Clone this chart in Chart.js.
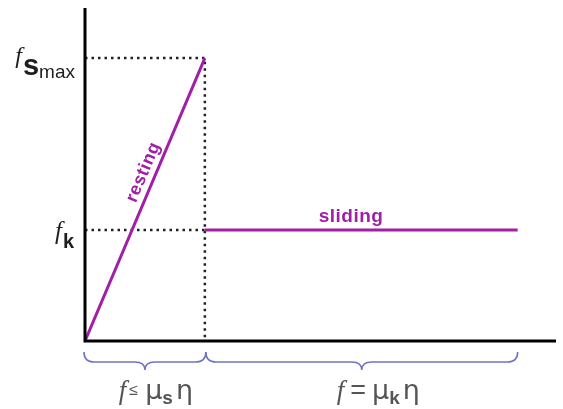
<!DOCTYPE html>
<html>
<head>
<meta charset="utf-8">
<script src="https://cdn.jsdelivr.net/npm/chart.js@4/dist/chart.umd.min.js"></script>
<style>
  html, body { margin: 0; padding: 0; background: #fff; }
  #wrap { width: 563px; height: 409px; }
</style>
</head>
<body>
<div id="wrap"><canvas id="c" width="563" height="409"></canvas></div>
<script>
// Friction force (y) against applied force (x), arbitrary units
const restingForce = [0, 1];
const restingFriction = [0, 10];
const slidingForce = [1, 3.61];
const slidingFriction = [3.92, 3.92];
const fsMax = 10;          // maximum static friction
const fk = 3.92;           // kinetic friction
const breakForce = 1;      // applied force where the block starts to slide
const xRange = [0, 3.93];
const yRange = [0, 11.77];

const PURPLE = '#a11fa6';
const BRACE = '#6f74c2';
const GREY = '#555';

const pts = (xs, ys) => xs.map((x, i) => ({ x, y: ys[i] }));

// draw a sequence of differently styled text pieces on one baseline
function drawRuns(ctx, x, y, runs, align) {
  let total = 0;
  runs.forEach(r => { ctx.font = r.font; r.w = ctx.measureText(r.text).width + (r.gap || 0); total += r.w; });
  let cx = align === 'center' ? x - total / 2 : (align === 'right' ? x - total : x);
  runs.forEach(r => {
    ctx.font = r.font;
    ctx.fillStyle = r.color;
    ctx.textAlign = 'left';
    ctx.textBaseline = 'alphabetic';
    ctx.fillText(r.text, cx + (r.dx || 0), y + (r.dy || 0));
    cx += r.w;
  });
}

function brace(ctx, x1, x2, y0) {
  const yh = y0 + 10, yt = y0 + 18, r = 10, xm = (x1 + x2) / 2;
  ctx.beginPath();
  ctx.moveTo(x1, y0);
  ctx.quadraticCurveTo(x1, yh, x1 + r, yh);
  ctx.lineTo(xm - r, yh);
  ctx.quadraticCurveTo(xm, yh, xm, yt);
  ctx.quadraticCurveTo(xm, yh, xm + r, yh);
  ctx.lineTo(x2 - r, yh);
  ctx.quadraticCurveTo(x2, yh, x2, y0);
  ctx.stroke();
}

const annotations = {
  id: 'annotations',
  afterDatasetsDraw(chart) {
    const { ctx, chartArea: a, scales: { x, y } } = chart;
    ctx.save();

    // axes
    ctx.strokeStyle = '#000';
    ctx.lineWidth = 3;
    ctx.lineCap = 'butt';
    ctx.beginPath();
    ctx.moveTo(a.left, a.top);
    ctx.lineTo(a.left, a.bottom);
    ctx.lineTo(a.right, a.bottom);
    ctx.stroke();

    // y-axis labels
    const ink = '#1e1e1e';
    const yMax = y.getPixelForValue(fsMax);
    drawRuns(ctx, 75, yMax + 17, [
      { text: 'f', font: 'italic 24px "Liberation Serif"', color: ink, dy: -12, gap: 1 },
      { text: 's', font: 'bold 29px "Liberation Sans"', color: ink },
      { text: 'max', font: '19px "Liberation Sans"', color: ink, dy: 3 }
    ], 'right');
    const yK = y.getPixelForValue(fk);
    drawRuns(ctx, 74, yK + 11, [
      { text: 'f', font: 'italic 25px "Liberation Serif"', color: ink, dy: -2, gap: 1 },
      { text: 'k', font: 'bold 20px "Liberation Sans"', color: ink, dy: 7 }
    ], 'right');

    // line labels
    const p0x = x.getPixelForValue(restingForce[0]), p0y = y.getPixelForValue(restingFriction[0]);
    const p1x = x.getPixelForValue(restingForce[1]), p1y = y.getPixelForValue(restingFriction[1]);
    const ang = Math.atan2(p1y - p0y, p1x - p0x);
    const mx = p0x + (p1x - p0x) * 0.58, my = p0y + (p1y - p0y) * 0.58;
    ctx.save();
    ctx.translate(mx, my);
    ctx.rotate(ang);
    ctx.font = 'bold 18px "Liberation Sans"';
    ctx.letterSpacing = '0.5px';
    ctx.fillStyle = PURPLE;
    ctx.textAlign = 'center';
    ctx.textBaseline = 'alphabetic';
    ctx.fillText('resting', 0, -7);
    ctx.restore();

    ctx.save();
    ctx.font = 'bold 19px "Liberation Sans"';
    ctx.letterSpacing = '0.5px';
    ctx.fillStyle = PURPLE;
    ctx.textAlign = 'center';
    ctx.textBaseline = 'alphabetic';
    ctx.fillText('sliding', x.getPixelForValue(2.22), y.getPixelForValue(fk) - 8);
    ctx.restore();

    // braces under the axis
    const bx0 = x.getPixelForValue(0), bx1 = x.getPixelForValue(breakForce), bx2 = x.getPixelForValue(slidingForce[1]);
    ctx.strokeStyle = BRACE;
    ctx.lineWidth = 1.6;
    brace(ctx, bx0 - 1, bx1 + 1, a.bottom + 11);
    brace(ctx, bx1 + 1, bx2, a.bottom + 11);

    const base = a.bottom + 58;
    drawRuns(ctx, (bx0 + bx1) / 2 + 11, base, [
      { text: 'f', font: 'italic 27px "Liberation Serif"', color: GREY, gap: 3 },
      { text: '≤', font: '16px "Liberation Sans"', color: GREY, dy: -4, gap: 7 },
      { text: 'μ', font: '27px "DejaVu Sans"', color: GREY },
      { text: 's', font: 'bold 19px "Liberation Sans"', color: GREY, dy: 5, gap: 3 },
      { text: 'η', font: '27px "DejaVu Sans"', color: GREY }
    ], 'center');
    drawRuns(ctx, (bx1 + bx2) / 2 + 17, base, [
      { text: 'f', font: 'italic 27px "Liberation Serif"', color: GREY, gap: 6 },
      { text: '=', font: '27px "Liberation Sans"', color: GREY, gap: 6 },
      { text: 'μ', font: '27px "DejaVu Sans"', color: GREY },
      { text: 'k', font: 'bold 19px "Liberation Sans"', color: GREY, dy: 5, gap: 3 },
      { text: 'η', font: '27px "DejaVu Sans"', color: GREY }
    ], 'center');

    ctx.restore();
  }
};

new Chart(document.getElementById('c'), {
  type: 'scatter',
  data: {
    datasets: [
      { label: 'resting', data: pts(restingForce, restingFriction), showLine: true,
        borderColor: PURPLE, borderWidth: 3, pointRadius: 0 },
      { label: 'sliding', data: pts(slidingForce, slidingFriction), showLine: true,
        borderColor: PURPLE, borderWidth: 3, pointRadius: 0 },
      { label: 'fsMax guide', data: [{ x: 0, y: fsMax }, { x: breakForce, y: fsMax }, { x: breakForce, y: 0 }],
        showLine: true, borderColor: '#222', borderWidth: 2.5, borderDash: [2.5, 4], pointRadius: 0 },
      { label: 'fk guide', data: [{ x: 0, y: fk }, { x: breakForce, y: fk }],
        showLine: true, borderColor: '#222', borderWidth: 2.5, borderDash: [2.5, 4], pointRadius: 0 }
    ]
  },
  options: {
    responsive: false,
    animation: false,
    layout: { padding: { left: 85, top: 8, right: 7, bottom: 68 } },
    plugins: { legend: { display: false }, tooltip: { enabled: false } },
    scales: {
      x: { type: 'linear', display: false, min: xRange[0], max: xRange[1] },
      y: { type: 'linear', display: false, min: yRange[0], max: yRange[1] }
    }
  },
  plugins: [annotations]
});
</script>
</body>
</html>
